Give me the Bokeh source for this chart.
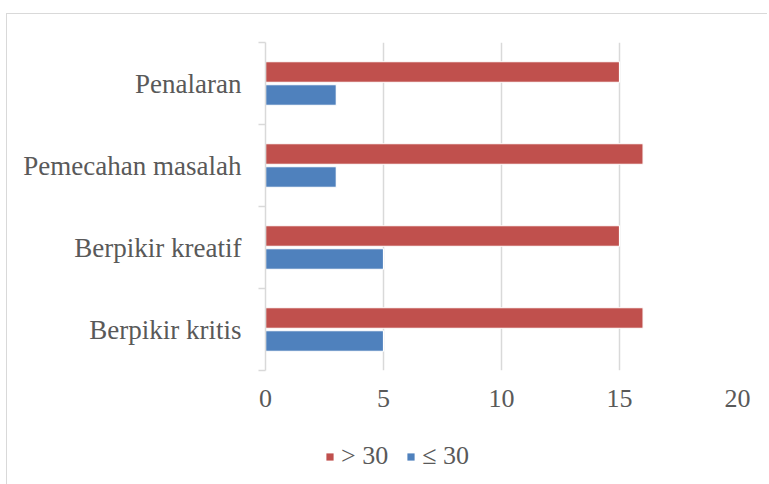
from bokeh.plotting import figure
from bokeh.models import Range1d, FixedTicker, Legend, LegendItem
from bokeh.layouts import column
from bokeh.embed import file_html
from bokeh.resources import INLINE

categories = ["Berpikir kritis", "Berpikir kreatif", "Pemecahan masalah", "Penalaran"]
gt30 = [16, 15, 16, 15]
le30 = [5, 5, 3, 3]
x_ticks = [0, 5, 10, 15, 20]
series_labels = ["> 30", "\u2264 30"]

RED = "#C0504D"
BLUE = "#4F81BD"
GRID = "#d9d9d9"
TXT = "#595959"
FONT = "Liberation Serif"

n = len(categories)
centers = [i + 0.5 for i in range(n)]
OFF = 0.14

p = figure(width=760, height=400,
           y_range=Range1d(0, n), x_range=Range1d(0, 20),
           output_backend="svg", toolbar_location=None,
           min_border_left=258, min_border_right=30, min_border_top=28, min_border_bottom=44)
p.outline_line_color = None
p.background_fill_color = "white"
p.border_fill_color = "white"

src = dict(cat=categories, gt=gt30, le=le30,
           y_gt=[c + OFF for c in centers], y_le=[c - OFF for c in centers])
p.hbar(y="y_gt", right="gt", left=0, height=0.25,
       source=src, fill_color=RED, line_color="white", line_width=1.2)
p.hbar(y="y_le", right="le", left=0, height=0.25,
       source=src, fill_color=BLUE, line_color="white", line_width=1.2)

yax = p.yaxis[0]
yax.ticker = FixedTicker(ticks=centers, minor_ticks=list(range(n + 1)))
yax.major_label_overrides = {c: name for c, name in zip(centers, categories)}
yax.axis_line_color = GRID
yax.axis_line_width = 1.5
yax.major_tick_line_color = None
yax.major_tick_out = 0
yax.major_tick_in = 0
yax.minor_tick_line_color = GRID
yax.minor_tick_line_width = 1.5
yax.minor_tick_out = 7
yax.minor_tick_in = 0
yax.major_label_text_font = FONT
yax.major_label_text_font_size = "27px"
yax.major_label_text_color = TXT
yax.major_label_standoff = 17

p.xaxis.ticker = FixedTicker(ticks=x_ticks)
p.xaxis.axis_line_color = None
p.xaxis.major_tick_line_color = None
p.xaxis.minor_tick_line_color = None
p.xaxis.major_label_text_font = FONT
p.xaxis.major_label_text_font_size = "26px"
p.xaxis.major_label_text_color = TXT
p.xaxis.major_label_standoff = 13

p.xgrid.ticker = FixedTicker(ticks=x_ticks)
p.xgrid.grid_line_color = GRID
p.xgrid.grid_line_width = 1.5
p.ygrid.grid_line_color = None

# legend strip below the chart (key swatches only; their marks sit outside the strip's ranges)
lg = figure(width=760, height=70, x_range=Range1d(0, 1), y_range=Range1d(0, 1),
            x_axis_location=None, y_axis_location=None,
            output_backend="svg", toolbar_location=None,
            min_border_left=0, min_border_right=0, min_border_top=0, min_border_bottom=0)
lg.outline_line_color = None
lg.background_fill_color = "white"
lg.border_fill_color = "white"
lg.xgrid.visible = False
lg.ygrid.visible = False
k1 = lg.hbar(y=[-5], right=[-4], left=-5, height=0.5, fill_color=RED, line_color=None)
k2 = lg.hbar(y=[-5], right=[-4], left=-5, height=0.5, fill_color=BLUE, line_color=None)
legend = Legend(items=[LegendItem(label=series_labels[0], renderers=[k1]),
                       LegendItem(label=series_labels[1], renderers=[k2])],
                orientation="horizontal", location=(60, 13),
                padding=0, margin=0, border_line_color=None, background_fill_alpha=0,
                label_text_font=FONT, label_text_font_size="26px", label_text_color=TXT,
                glyph_width=9, glyph_height=9, label_standoff=7, spacing=18)
lg.add_layout(legend)

layout = column(p, lg, spacing=0)
layout.styles = {"margin-left": "6px", "margin-top": "13px",
                 "border-left": "1px solid #d9d9d9", "border-top": "1px solid #d9d9d9"}

open("out.html", "w").write(file_html(layout, INLINE))
